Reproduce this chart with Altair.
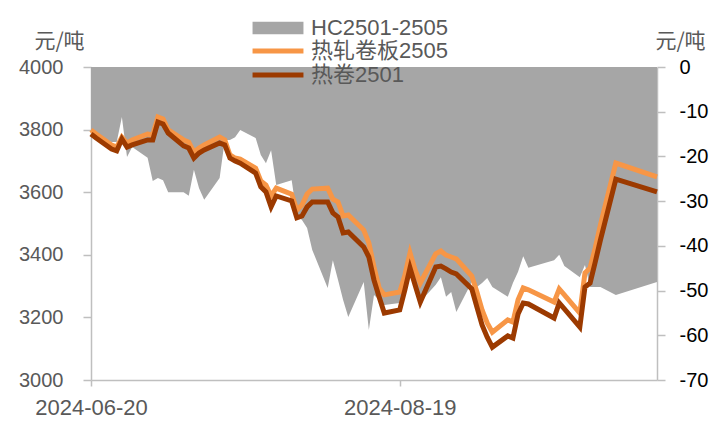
import altair as alt
import pandas as pd

# trading days (2024)
jun_days = [20, 21, 24, 25, 26, 27, 28]
jul_days = [1, 2, 3, 4, 5, 8, 9, 10, 11, 12, 15, 16, 17, 18, 19, 22, 23, 24, 25, 26, 29, 30, 31]
aug_days = [1, 2, 5, 6, 7, 8, 9, 12, 13, 14, 15, 16, 19, 20, 21, 22, 23, 26, 27, 28, 29, 30]
sep_days = [2, 3, 4, 5, 6, 9, 10, 11, 12, 13, 18, 19, 20, 23, 24, 25, 26, 27, 30]
oct_days = [8]

# 热轧卷板2505
hc2505 = [3799, 3786, 3751, 3744, 3776, 3757, 3767,
          3786, 3783, 3840, 3834, 3799, 3767, 3760, 3728, 3741, 3751, 3776, 3767, 3719, 3709, 3706,
          3677, 3636, 3623, 3588, 3613, 3594, 3543, 3559,
          3594, 3610, 3613, 3578, 3569, 3524, 3527, 3479, 3438, 3361, 3294, 3272, 3281, 3335, 3406,
          3351, 3310, 3403, 3412, 3399, 3393, 3387,
          3332, 3281, 3224, 3182, 3153, 3192, 3185, 3256, 3294, 3288, 3249, 3291, 3272, 3214, 3342,
          3358, 3422, 3495, 3693,
          3649]
# 热卷2501
hc2501 = [3786, 3773, 3738, 3732, 3770, 3744, 3751,
          3767, 3767, 3824, 3818, 3789, 3748, 3741, 3709, 3725, 3735, 3757, 3751, 3709, 3700, 3693,
          3661, 3617, 3601, 3553, 3588, 3572, 3518, 3524,
          3553, 3569, 3569, 3534, 3521, 3470, 3473, 3425, 3393, 3319, 3265, 3214, 3224, 3288, 3358,
          3303, 3249, 3361, 3364, 3355, 3345, 3339,
          3291, 3233, 3176, 3137, 3105, 3141, 3134, 3211, 3246, 3243, 3198, 3246, 3227, 3169, 3297,
          3310, 3377, 3447, 3642,
          3601]
# HC2501-2505 spread
spread = [-14.3, -15.2, -16.8, -16.8, -11.2, -20.1, -17.9,
          -20.3, -25.5, -24.8, -25.3, -28.0, -28.0, -28.8, -23.0, -27.1, -29.7, -24.8, -16.3, -16.3,
          -15.7, -14.1, -15.9, -19.7, -21.5, -18.6, -26.4, -25.3, -33.1, -34.2,
          -36.0, -40.9, -49.4, -43.2, -47.6, -52.1, -55.9, -48.1, -58.8, -51.0, -52.1, -53.2, -52.8,
          -50.3, -43.6, -48.7, -52.5, -48.7, -47.0, -51.4, -50.3, -54.8,
          -48.1, -49.2, -48.3, -47.2, -49.2, -51.4, -48.3, -45.8, -42.3, -44.9, -43.2, -42.0, -44.5,
          -47.0, -44.3, -49.2, -49.2, -49.2, -51.0,
          -48.1]

series_names = ["热轧卷板2505", "热卷2501"]
area_name = "HC2501-2505"
line_colors = ["#f79646", "#9c3a00"]
area_color = "#a6a6a6"

dates = ([f"2024-06-{d:02d}" for d in jun_days] + [f"2024-07-{d:02d}" for d in jul_days]
         + [f"2024-08-{d:02d}" for d in aug_days] + [f"2024-09-{d:02d}" for d in sep_days]
         + [f"2024-10-{d:02d}" for d in oct_days])

df_area = pd.DataFrame({"date": dates, "spread": spread, "name": area_name})
df_lines = pd.concat([
    pd.DataFrame({"date": dates, "price": hc2505, "series": series_names[0]}),
    pd.DataFrame({"date": dates, "price": hc2501, "series": series_names[1]}),
])

FONT = "Liberation Sans, Noto Sans CJK SC"
CJK = "Noto Sans CJK SC, Liberation Sans"
GRAY = "#595959"
AX = "#bfbfbf"

xenc = alt.X(
    "date:T",
    title=None,
    scale=alt.Scale(type="utc", domain=[alt.DateTime(year=2024, month=6, date=20, utc=True),
                                        alt.DateTime(year=2024, month=10, date=8, utc=True)]),
    axis=alt.Axis(values=[alt.DateTime(year=2024, month=6, date=20, utc=True),
                          alt.DateTime(year=2024, month=8, date=19, utc=True)],
                  format="%Y-%m-%d", labelFontSize=22, labelColor=GRAY, labelFont=FONT,
                  tickSize=6, tickColor=AX, domainColor=AX, domainWidth=1.5, tickWidth=1.5,
                  labelPadding=11, grid=False, labelFlush=False),
)

area = alt.Chart(df_area).mark_area(opacity=1).encode(
    x=xenc,
    y=alt.Y("spread:Q",
            scale=alt.Scale(domain=[-70, 0], nice=False, zero=False),
            axis=alt.Axis(orient="right", values=list(range(-70, 1, 10)), labelFontSize=20,
                          labelExpr="'' + datum.value",
                          labelColor="#000000", labelFont=FONT, tickSize=8, tickColor=AX,
                          domainColor=AX, domainWidth=1.5, tickWidth=1.5, labelPadding=14,
                          grid=False, title="元/吨", titleAngle=0, titleX=23, titleY=-26,
                          titleAlign="center", titleBaseline="middle", titleFontSize=21,
                          titleFontWeight="normal", titleColor=GRAY, titleFont=CJK)),
    y2=alt.datum(0),
    fill=alt.Fill("name:N", scale=alt.Scale(domain=[area_name], range=[area_color]),
                  legend=alt.Legend(orient="none", legendX=176, legendY=-50, padding=0,
                                    title=None, symbolType="M-4,-1H4V1H-4Z", symbolSize=162,
                                    symbolStrokeWidth=0, symbolOpacity=1, labelOffset=22,
                                    labelFontSize=22, labelColor=GRAY, labelFont=FONT)),
)

lines = alt.Chart(df_lines).mark_line(strokeWidth=5).encode(
    x=xenc,
    y=alt.Y("price:Q",
            scale=alt.Scale(domain=[3000, 4000], nice=False, zero=False),
            axis=alt.Axis(orient="left", values=list(range(3000, 4001, 200)), labelFontSize=20,
                          format="d",
                          labelColor=GRAY, labelFont=FONT, tickSize=8, tickColor=AX,
                          domainColor=AX, domainWidth=1.5, tickWidth=1.5, labelPadding=20,
                          grid=False, title="元/吨", titleAngle=0, titleX=-32, titleY=-26,
                          titleAlign="center", titleBaseline="middle", titleFontSize=21,
                          titleFontWeight="normal", titleColor=GRAY, titleFont=CJK)),
    color=alt.Color("series:N", scale=alt.Scale(domain=series_names, range=line_colors),
                    legend=alt.Legend(orient="none", legendX=176, legendY=-27, padding=0,
                                      title=None, symbolType="M-4,0H4", symbolSize=162,
                                      symbolStrokeWidth=5, labelOffset=22, rowPadding=2,
                                      labelFontSize=22, labelColor=GRAY, labelFont=FONT)),
)

chart = alt.layer(area, lines).resolve_scale(y="independent").properties(
    width=566, height=313,
    autosize=alt.AutoSizeParams(type="none"),
    padding={"left": 91, "top": 67, "right": 70, "bottom": 42},
    background="white",
).configure_view(stroke=None)

chart.save("out.html", embed_options={"renderer": "svg", "actions": False})
